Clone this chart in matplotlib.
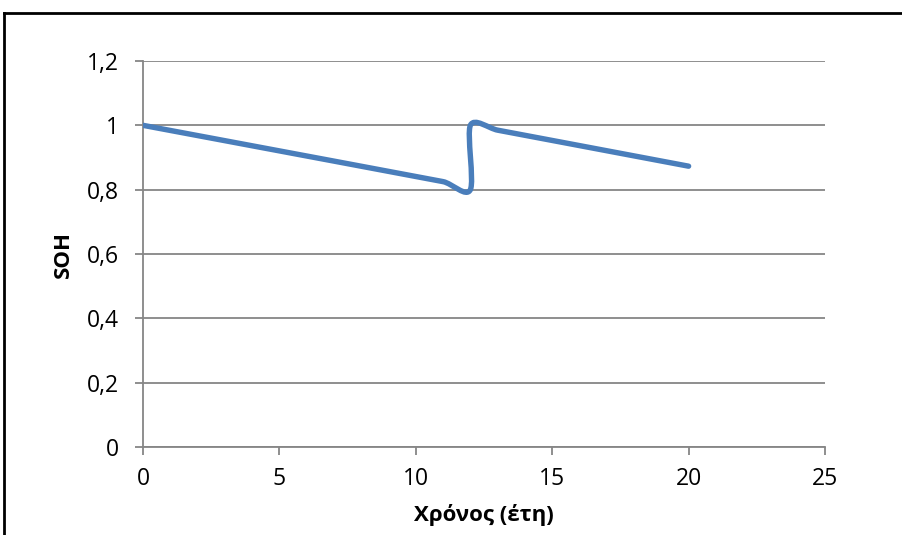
import numpy as np
import matplotlib
matplotlib.use("Agg")
import matplotlib.pyplot as plt
from matplotlib.path import Path
from matplotlib.patches import PathPatch
from matplotlib.ticker import FuncFormatter

# data (Excel smoothed line)
years = [0, 11, 12, 12, 13, 20]
soh = [1.0, 0.825, 0.80, 1.0, 0.985, 0.873]

x_ticks = [0, 5, 10, 15, 20, 25]
y_ticks = [0, 0.2, 0.4, 0.6, 0.8, 1.0, 1.2]

plt.rcParams['font.family'] = ['Open Sans', 'DejaVu Sans']

W, H = 903, 535
fig = plt.figure(figsize=(W / 100, H / 100), dpi=100)
ax_rect = [143 / W, 1 - 447 / H, 682 / W, 386 / H]
ax = fig.add_axes(ax_rect)
xmax, ymax = 25, 1.2

# smoothing similar to Excel, done in pixel space
sx = 682 / xmax
sy = 386 / ymax
pts = np.column_stack([np.array(years) * sx, np.array(soh) * sy])
n = len(pts)
seg = np.linalg.norm(np.diff(pts, axis=0), axis=1)
tang = []
for i in range(n):
    d = pts[min(i + 1, n - 1)] - pts[max(i - 1, 0)]
    tang.append(d / np.linalg.norm(d))
verts = [pts[0]]
codes = [Path.MOVETO]
for i in range(n - 1):
    h1 = min(seg[i], seg[i - 1] if i > 0 else seg[i]) / 3
    h2 = min(seg[i], seg[i + 1] if i + 1 < n - 1 else seg[i]) / 3
    c1 = pts[i] + tang[i] * h1
    c2 = pts[i + 1] - tang[i + 1] * h2
    verts += [c1, c2, pts[i + 1]]
    codes += [Path.CURVE4] * 3
verts = np.array(verts) / [sx, sy]
path = Path(verts, codes)
ax.add_patch(PathPatch(path, facecolor='none', edgecolor='#4a7ebb', lw=3.9,
                       capstyle='round', joinstyle='round', zorder=3))

ax.set_xlim(0, xmax)
ax.set_ylim(0, ymax)
ax.set_xticks(x_ticks)
ax.set_yticks(y_ticks)
ax.yaxis.set_major_formatter(FuncFormatter(lambda v, p: f'{v:g}'.replace('.', ',')))
ax.grid(axis='y', color='#868686', lw=1.3)
ax.set_axisbelow(True)

for s in ['top', 'right']:
    ax.spines[s].set_visible(False)
for s in ['left', 'bottom']:
    ax.spines[s].set_color('#868686')
    ax.spines[s].set_linewidth(1.3)
ax.tick_params(axis='both', color='#868686', width=1.3, length=5.5, labelsize=16.5)
ax.tick_params(axis='x', pad=9)
ax.tick_params(axis='y', pad=12)

ax.set_xlabel('Χρόνος (έτη)', fontsize=16, fontweight='bold', labelpad=9)
ax.set_ylabel('SOH', fontsize=16, fontweight='bold', labelpad=9)

# chart frame (top and left edges visible only)
fig.add_artist(plt.Line2D([4.5 / W, 1.0], [1 - 12.5 / H, 1 - 12.5 / H],
                          color='black', lw=2, transform=fig.transFigure))
fig.add_artist(plt.Line2D([4.5 / W, 4.5 / W], [0, 1 - 12.5 / H],
                          color='black', lw=2, transform=fig.transFigure))

fig.savefig('out.png', dpi=100)
